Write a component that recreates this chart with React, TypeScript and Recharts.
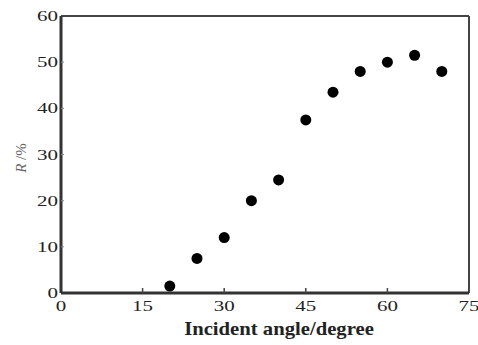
import { ScatterChart, Scatter, XAxis, YAxis, ReferenceLine, Label } from "recharts";

const angles = [20, 25, 30, 35, 40, 45, 50, 55, 60, 65, 70];
const reflectance = [1.5, 7.5, 12, 20, 24.5, 37.5, 43.5, 48, 50, 51.5, 48];
const xTicks = [0, 15, 30, 45, 60, 75];
const yTicks = [0, 10, 20, 30, 40, 50, 60];

const data = angles.map((a, i) => ({ x: a, y: reflectance[i] }));

const FONT = "'Liberation Serif', 'DejaVu Serif', serif";
const INK = "#222";

function XTick(props: any) {
  const { x, y, payload } = props;
  const v = payload.value;
  return (
    <g>
      {v > 0 && v < 75 && <line x1={x} x2={x} y1={y} y2={y - 5} stroke="#444" strokeWidth={1.5} />}
      <text
        transform={`translate(${x},${y + 18}) scale(1.4,1)`}
        textAnchor="middle"
        fontFamily={FONT}
        fontSize={15}
        fill={INK}
      >
        {v}
      </text>
    </g>
  );
}

function YTick(props: any) {
  const { x, y, payload } = props;
  const v = payload.value;
  return (
    <g>
      {v > 0 && v < 60 && <line x1={x} x2={x + 3} y1={y} y2={y} stroke="#888" strokeWidth={1} />}
      <text
        transform={`translate(${x - 3},${y + 5}) scale(1.4,1)`}
        textAnchor="end"
        fontFamily={FONT}
        fontSize={15}
        fill={INK}
      >
        {v}
      </text>
    </g>
  );
}

function Dot(props: any) {
  const { cx, cy } = props;
  return <circle cx={cx} cy={cy} r={5.5} fill="#000" />;
}

export default function App() {
  return (
    <div style={{ position: "absolute", left: 0, top: 0, background: "#fff" }}>
      <ScatterChart width={478} height={345} margin={{ top: 16, right: 9, left: 0, bottom: 0 }}>
        <XAxis
          type="number"
          dataKey="x"
          domain={[0, 75]}
          ticks={xTicks}
          height={52}
          tickSize={0}
          tickMargin={0}
          tickLine={false}
          tick={<XTick />}
          axisLine={{ stroke: "#333", strokeWidth: 3 }}
          interval={0}
        >
          <Label
            content={() => (
              <text
                transform="translate(279,335) scale(1.15,1)"
                textAnchor="middle"
                fontFamily={FONT}
                fontWeight="bold"
                fontSize={18}
                fill={INK}
              >
                Incident angle/degree
              </text>
            )}
          />
        </XAxis>
        <YAxis
          type="number"
          dataKey="y"
          domain={[0, 60]}
          ticks={yTicks}
          width={61}
          tickSize={0}
          tickMargin={0}
          tickLine={false}
          tick={<YTick />}
          axisLine={{ stroke: "#333", strokeWidth: 3 }}
          interval={0}
        >
          <Label
            content={() => (
              <text
                transform="translate(26,158) rotate(-90)"
                textAnchor="middle"
                fontFamily={FONT}
                fontSize={15}
                fill="#666"
              >
                <tspan fontStyle="italic">R</tspan> /%
              </text>
            )}
          />
        </YAxis>
        <ReferenceLine y={60} stroke="#444" strokeWidth={2} />
        <ReferenceLine x={75} stroke="#444" strokeWidth={2} />
        <Scatter data={data} shape={<Dot />} isAnimationActive={false} />
      </ScatterChart>
    </div>
  );
}
